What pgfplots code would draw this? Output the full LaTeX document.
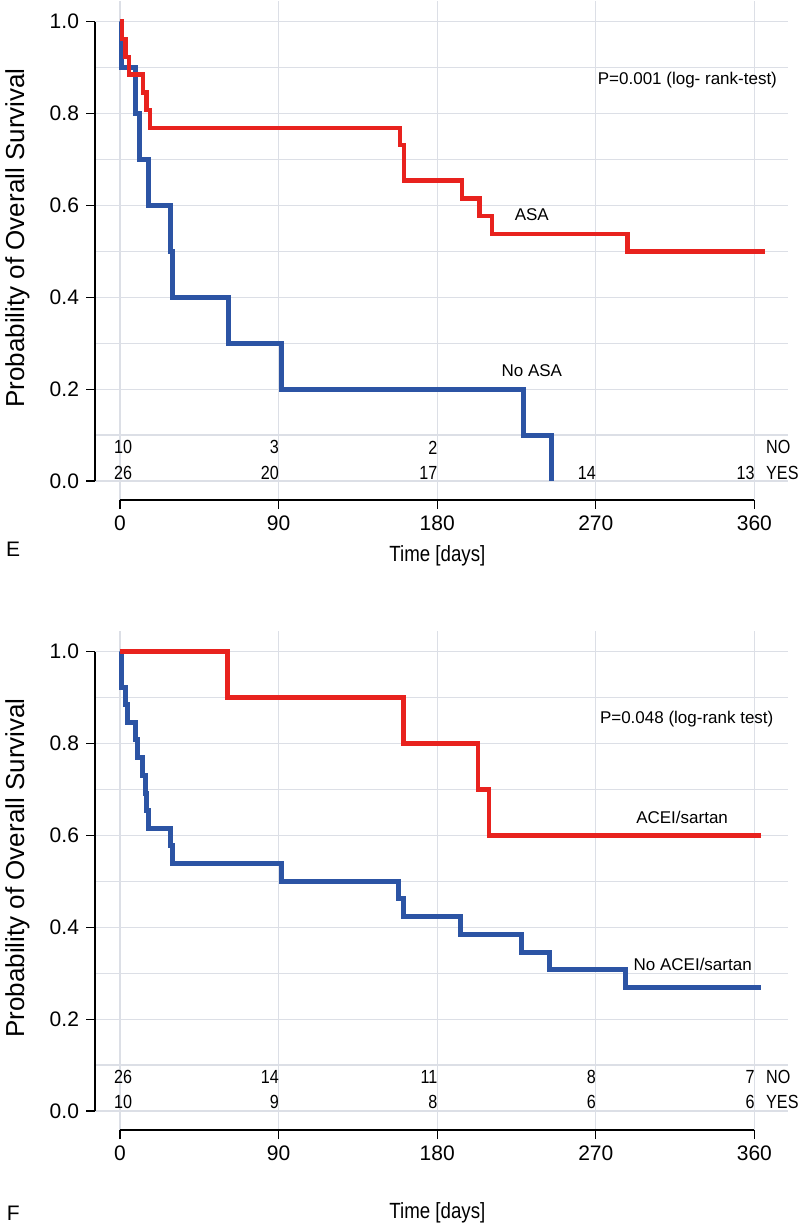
\documentclass[border=0pt]{standalone}
\usepackage{fontspec}
\setmainfont{Liberation Sans}
\newfontfamily\narrow[FakeStretch=0.85]{Liberation Sans}
\usepackage{pgfplots}
\pgfplotsset{compat=1.18}
\definecolor{kmred}{RGB}{232,34,30}
\definecolor{kmblue}{RGB}{44,84,164}
\definecolor{gridc}{RGB}{220,223,230}
\pgfplotsset{
  kmaxis/.style={
    scale only axis, width=346.5pt, height=249.5pt,
    xmin=-14.2, xmax=379.1, ymin=-0.0414, ymax=1.045,
    axis line style={draw=none},
    xtick={0,90,180,270,360}, ytick={0,0.2,0.4,0.6,0.8,1.0},
    minor ytick={0.1,0.3,0.5,0.7,0.9},
    grid=both,
    major grid style={gridc, line width=0.6pt},
    minor grid style={gridc, line width=0.6pt},
    tick align=outside, xtick pos=bottom, ytick pos=left,
    major tick length=4.5pt, minor tick length=0pt,
    every tick/.style={black, line width=0.6pt},
    y tick label style={/pgf/number format/fixed, /pgf/number format/fixed zerofill, /pgf/number format/precision=1},
    tick label style={font=\fontsize{10.5}{12}\selectfont},
    /pgf/number format/assume math mode=true,
    ylabel={Probability of Overall Survival},
    every axis y label/.style={at={(axis description cs:-0.112,0.525)}, rotate=90, anchor=center, font=\fontsize{13}{14}\selectfont},
    clip=false,
  },
  km/.style={const plot, line join=miter, line cap=butt, mark=none},
}
\begin{document}
\begin{tikzpicture}
\useasboundingbox (0,0) rectangle (400pt,614.5pt);
% ---------------- Panel E ----------------
\begin{axis}[kmaxis, at={(47.5pt,364.5pt)}, anchor=south west]
\addplot[km, kmblue, line width=2.5pt] coordinates {
(0,1) (0.8,0.9) (8.5,0.8) (11,0.7) (16,0.6) (28.5,0.5) (30,0.4) (61.5,0.3) (91.7,0.2) (228.7,0.1) (244.6,0.0)};
\addplot[km, kmred, line width=2.2pt] coordinates {
(0,1) (1,0.962) (3,0.923) (5,0.885) (13,0.846) (15,0.808) (17,0.769) (159,0.731) (161,0.654) (194,0.615) (204,0.577) (211,0.538) (288,0.5) (366,0.5)};
\draw[black, line width=0.6pt] (axis cs:-14.2,0) -- (axis cs:-14.2,1);
\draw[black, line width=0.6pt] (axis cs:0,-0.0414) -- (axis cs:360,-0.0414);
\begin{scope}[every node/.style={font=\narrow\fontsize{9.5}{10}\selectfont, inner sep=0pt}]
\node[anchor=center] at (axis cs:1.7,0.073) {10};
\node[anchor=east] at (axis cs:90.3,0.073) {3};
\node[anchor=east] at (axis cs:180.3,0.073) {2};
\node[anchor=west] at (axis cs:366.5,0.073) {NO};
\node[anchor=center] at (axis cs:1.7,0.017) {26};
\node[anchor=east] at (axis cs:90.3,0.017) {20};
\node[anchor=east] at (axis cs:180.3,0.017) {17};
\node[anchor=east] at (axis cs:270.3,0.017) {14};
\node[anchor=east] at (axis cs:360.3,0.017) {13};
\node[anchor=west] at (axis cs:366.5,0.017) {YES};
\end{scope}
\begin{scope}[every node/.style={font=\fontsize{8.5}{10}\selectfont, inner sep=0pt}]
\node at (axis cs:322,0.873) {P=0.001 (log- rank-test)};
\node at (axis cs:233.7,0.579) {ASA};
\node at (axis cs:233.7,0.241) {No ASA};
\end{scope}
\node[font=\narrow\fontsize{11}{12}\selectfont] at (axis description cs:0.494,-0.112) {Time [days]};
\node[font=\fontsize{10.5}{12}\selectfont] at (axis description cs:-0.118,-0.098) {E};
\end{axis}
% ---------------- Panel F ----------------
\begin{axis}[kmaxis, at={(47.5pt,49.5pt)}, anchor=south west]
\addplot[km, kmblue, line width=2.5pt] coordinates {
(0,1) (0.8,0.923) (3,0.885) (4,0.846) (8.5,0.808) (9.8,0.769) (12.9,0.731) (14.2,0.692) (15,0.654) (16.2,0.615) (28.4,0.577) (29.9,0.538) (91.4,0.5) (158,0.462) (161,0.423) (193.5,0.385) (228,0.346) (244,0.308) (287,0.269) (364,0.269)};
\addplot[km, kmred, line width=2.2pt] coordinates {
(0,1) (61,0.9) (160.8,0.8) (203,0.7) (209.5,0.6) (364,0.6)};
\draw[black, line width=0.6pt] (axis cs:-14.2,0) -- (axis cs:-14.2,1);
\draw[black, line width=0.6pt] (axis cs:0,-0.0414) -- (axis cs:360,-0.0414);
\begin{scope}[every node/.style={font=\narrow\fontsize{9.5}{10}\selectfont, inner sep=0pt}]
\node[anchor=center] at (axis cs:1.7,0.073) {26};
\node[anchor=east] at (axis cs:90.3,0.073) {14};
\node[anchor=east] at (axis cs:180.3,0.073) {11};
\node[anchor=east] at (axis cs:270.3,0.073) {8};
\node[anchor=east] at (axis cs:360.3,0.073) {7};
\node[anchor=west] at (axis cs:366.5,0.073) {NO};
\node[anchor=center] at (axis cs:1.7,0.019) {10};
\node[anchor=east] at (axis cs:90.3,0.019) {9};
\node[anchor=east] at (axis cs:180.3,0.019) {8};
\node[anchor=east] at (axis cs:270.3,0.019) {6};
\node[anchor=east] at (axis cs:360.3,0.019) {6};
\node[anchor=west] at (axis cs:366.5,0.019) {YES};
\end{scope}
\begin{scope}[every node/.style={font=\fontsize{8.5}{10}\selectfont, inner sep=0pt}]
\node at (axis cs:321.6,0.853) {P=0.048 (log-rank test)};
\node at (axis cs:319,0.64) {ACEI/sartan};
\node at (axis cs:325,0.319) {No ACEI/sartan};
\end{scope}
\node[font=\narrow\fontsize{11}{12}\selectfont] at (axis description cs:0.494,-0.166) {Time [days]};
\node[font=\fontsize{10.5}{12}\selectfont] at (axis description cs:-0.118,-0.166) {F};
\end{axis}
\end{tikzpicture}
\end{document}
